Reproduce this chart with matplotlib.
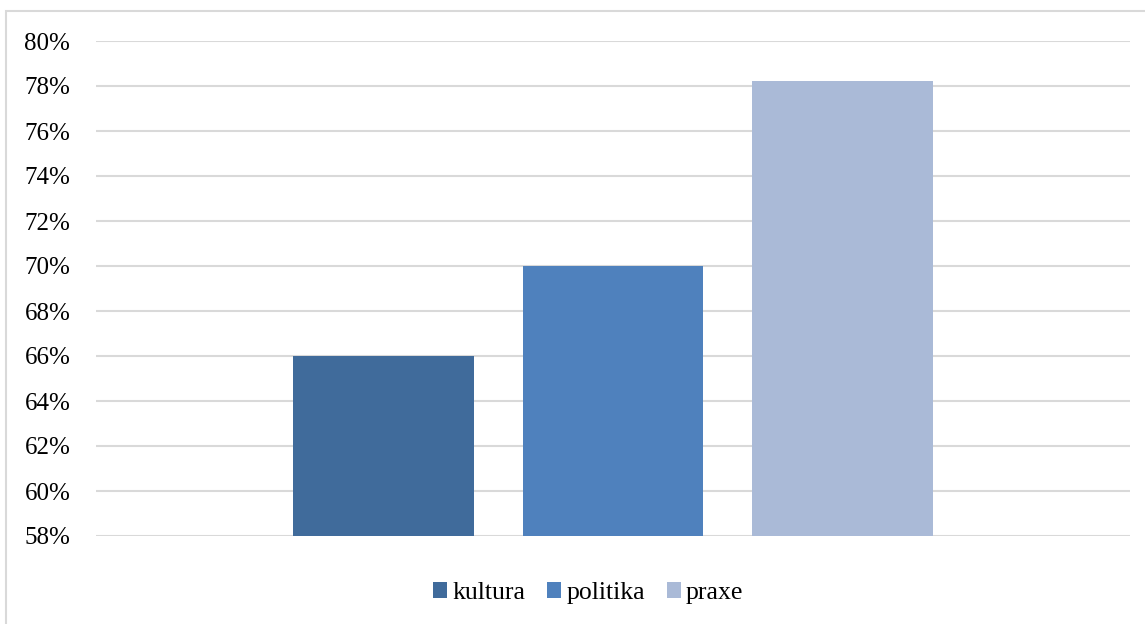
import numpy as np
import matplotlib.pyplot as plt
from matplotlib.patches import Rectangle
from matplotlib.ticker import FuncFormatter

# ---------------------------
# data
# ---------------------------
series = ["kultura", "politika", "praxe"]
values = [66.0, 70.0, 78.2]
colors = ["#406B9B", "#4F81BD", "#AABAD7"]
yticks = np.arange(58, 81, 2)

plt.rcParams["font.family"] = ["Liberation Serif", "DejaVu Serif"]

W, H = 1145, 624
fig = plt.figure(figsize=(W / 100, H / 100), dpi=100)

# plot area in pixel coordinates of the reference
left, right, top, bottom = 96, 1130, 41, 536
ax = fig.add_axes([left / W, 1 - bottom / H, (right - left) / W, (bottom - top) / H])

bar_w = 0.175
offsets = [-0.2215, 0.0, 0.2215]
for name, val, col, off in zip(series, values, colors, offsets):
    ax.bar(off, val - 58, bottom=58, width=bar_w, color=col, label=name, zorder=3)

ax.set_xlim(-0.5, 0.5)
ax.set_ylim(58, 80)
ax.set_yticks(yticks)
ax.yaxis.set_major_formatter(FuncFormatter(lambda v, p: f"{v:.0f}%"))
ax.grid(axis="y", color="#d9d9d9", linewidth=1.5)
ax.set_axisbelow(True)
ax.set_xticks([])
for s in ax.spines.values():
    s.set_visible(False)
ax.tick_params(axis="y", length=0, labelsize=18, pad=18.5)

# outer chart border
fig.patches.append(Rectangle((6 / W, -0.05), 1.0, 1 - 11 / H + 0.05,
                             transform=fig.transFigure, fill=False,
                             edgecolor="#d9d9d9", linewidth=1.5))

fig.legend(loc="center", bbox_to_anchor=(588 / W, 1 - 593 / H), ncol=3,
           frameon=False, fontsize=18.5, handlelength=0.55, handleheight=0.55,
           handletextpad=0.2, columnspacing=0.85)

plt.savefig("out.png", dpi=100)
plt.close(fig)
